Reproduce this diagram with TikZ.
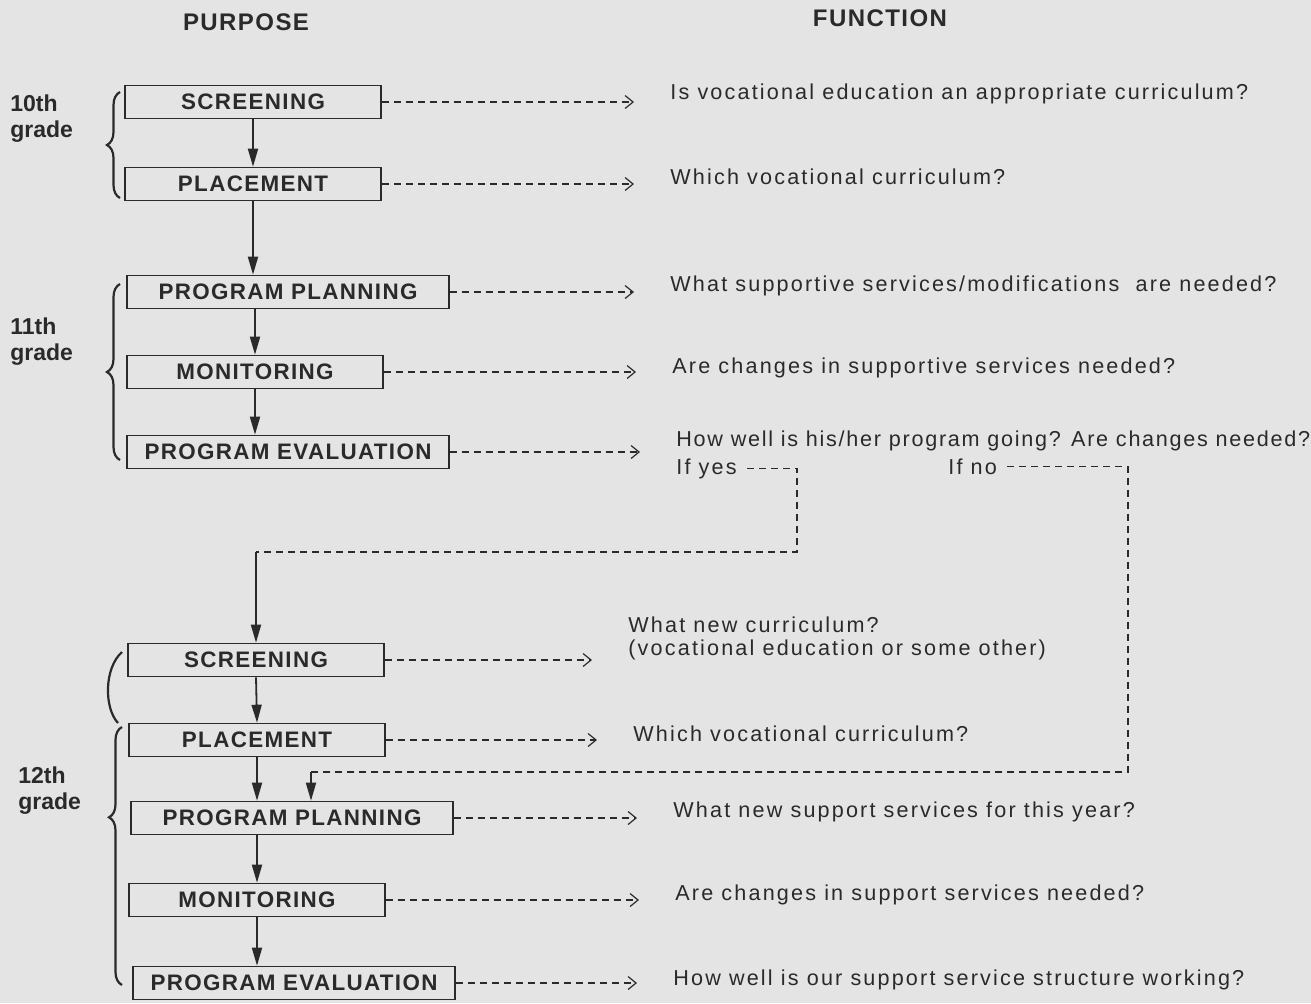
\documentclass[tikz,border=0pt]{standalone}
\usepackage{fontspec}
\setmainfont{Liberation Sans}
\newfontfamily\spacedfont[LetterSpace=10]{Liberation Sans}
\newfontfamily\tightfont[LetterSpace=8]{Liberation Sans}
\newfontfamily\labelfont[LetterSpace=6]{Liberation Sans}
\usetikzlibrary{arrows.meta,decorations.pathreplacing}

\definecolor{paper}{HTML}{E4E4E4}
\definecolor{ink}{HTML}{2A2A2A}

\tikzset{
	purpose/.style={draw=ink, line width=0.8pt, minimum width=128pt, minimum height=16.5pt, inner sep=0pt,
		font=\labelfont\bfseries\fontsize{11.2}{12}\selectfont, text=ink},
	widebox/.style={purpose, minimum width=161pt},
	function/.style={anchor=base west, inner sep=0pt, align=left,
		font=\spacedfont\fontsize{10.8}{11.5}\selectfont, text=ink},
	header/.style={inner sep=0pt, font=\labelfont\bfseries\fontsize{12}{13}\selectfont, text=ink},
	grade/.style={anchor=base west, inner sep=0pt, align=left,
		font=\bfseries\fontsize{11.5}{13}\selectfont, text=ink},
	flow/.style={draw=ink, line width=0.9pt, -{Triangle[length=9pt,width=5pt]}},
	query/.style={draw=ink, line width=0.7pt, dash pattern=on 3.5pt off 2.5pt,
		-{Straight Barb[length=4pt,width=6.5pt,line width=0.6pt]}, shorten >=18pt},
	branch/.style={draw=ink, line width=0.7pt, dash pattern=on 3.5pt off 2.5pt},
	bracket/.style={draw=ink, line width=1.1pt, decorate, decoration={brace, amplitude=6.5pt}},
}

\begin{document}
\begin{tikzpicture}[x=0.5pt, y=-0.5pt]
	% Background
	\fill [paper] (0,0) rectangle (1311,1003);
	% Headers
	\node [header] (purpose) at (246,22) {PURPOSE};
	\node [header] (function) at (880,18) {FUNCTION};
	% Grades
	\node [grade] (g10) at (10,137) {10th\\grade};
	\node [grade] (g11) at (10,360) {11th\\grade};
	\node [grade] (g12) at (18,809) {12th\\grade};
	\draw [bracket] (120,198) -- (120,92);
	\draw [bracket] (120,460) -- (120,284);
	\draw [ink, line width=1.1pt] (122,652) .. controls (104,668) and (104,708) .. (118,723);
	\draw [bracket, decoration={aspect=0.65}] (122,985) -- (122,727);

	% 10th and 11th grade
	\node [purpose] (s1) at (253,102) {SCREENING};
	\node [purpose] (p1) at (253,184) {PLACEMENT};
	\node [widebox] (pp1) at (288,292) {PROGRAM PLANNING};
	\node [purpose] (m1) at (255,372) {MONITORING};
	\node [widebox] (pe1) at (288,452) {PROGRAM EVALUATION};

	\node [function] (f1) at (670,99) {Is vocational education an appropriate curriculum?};
	\node [function] (f2) at (670,184) {Which vocational curriculum?};
	\node [function] (f3) at (670,291) {What supportive services/modifications\ \ are needed?};
	\node [function] (f4) at (672,373) {Are changes in supportive services needed?};
	\node [function] (f5) at (676,446) {\tightfont How well is his/her program going? Are changes needed?};
	\node [function] (ifyes) at (676,474) {If yes};
	\node [function] (ifno) at (948,474) {If no};

	\draw [flow] (s1.south) -- (p1.north);
	\draw [flow] (p1.south) -- (p1.south |- pp1.north);
	\draw [flow] (m1.north |- pp1.south) -- (m1.north);
	\draw [flow] (m1.south) -- (m1.south |- pe1.north);

	\draw [query] (s1.east) -- (s1.east -| f1.west);
	\draw [query] (p1.east) -- (p1.east -| f2.west);
	\draw [query] (pp1.east) -- (pp1.east -| f3.west);
	\draw [query] (m1.east) -- (m1.east -| f4.west);
	\draw [query] (pe1.east) -- (pe1.east -| f5.west);

	% 12th grade
	\node [purpose] (s2) at (256,660) {SCREENING};
	\node [purpose] (p2) at (257,740) {PLACEMENT};
	\node [widebox] (pp2) at (292,818) {PROGRAM PLANNING};
	\node [purpose] (m2) at (257,900) {MONITORING};
	\node [widebox] (pe2) at (294,983) {PROGRAM EVALUATION};

	\node [function] (f6) at (628,655) {What new curriculum?\\(vocational education or some other)};
	\node [function] (f7) at (633,741) {Which vocational curriculum?};
	\node [function] (f8) at (673,817) {What new support services for this year?};
	\node [function] (f9) at (675,900) {Are changes in support services needed?};
	\node [function] (f10) at (673,985) {How well is our support service structure working?};

	\draw [flow] (s2.south) -- (p2.north);
	\draw [flow] (p2.south) -- (p2.south |- pp2.north);
	\draw [flow] (m2.north |- pp2.south) -- (m2.north);
	\draw [flow] (m2.south) -- (m2.south |- pe2.north);

	\draw [query] (s2.east) -- (s2.east -| f6.west);
	\draw [query] (p2.east) -- (p2.east -| f7.west);
	\draw [query] (pp2.east) -- (pp2.east -| f8.west);
	\draw [query] (m2.east) -- (m2.east -| f9.west);
	\draw [query] (pe2.east) -- (pe2.east -| f10.west);

	% If yes / if no
	\coordinate (yesdrop) at (797,552);
	\coordinate (yesleft) at (s2.north |- yesdrop);
	\draw [branch, shorten <=5pt] (ifyes.east) -| (yesdrop) -- (yesleft);
	\draw [flow] (yesleft) -- (s2.north);
	\coordinate (nodrop) at (1128,772);
	\coordinate (noleft) at (311,772);
	\draw [branch, shorten <=5pt] (ifno.east) -| (nodrop) -- (noleft);
	\draw [flow] (noleft) -- (noleft |- pp2.north);
\end{tikzpicture}
\end{document}
